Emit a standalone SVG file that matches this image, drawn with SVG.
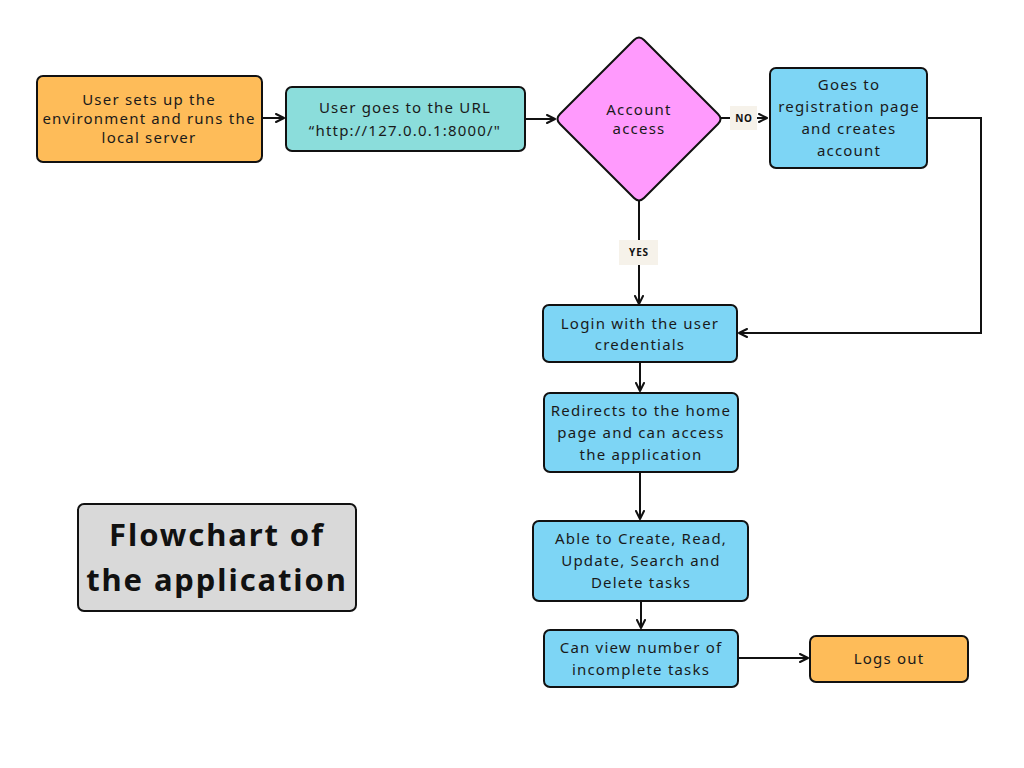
<svg xmlns="http://www.w3.org/2000/svg" width="1024" height="768" viewBox="0 0 1024 768">
  <defs>
    <marker id="arrow" viewBox="0 0 10 10" refX="9" refY="5" markerWidth="10" markerHeight="10" markerUnits="userSpaceOnUse" orient="auto">
      <path d="M1,1 L9,5 L1,9" fill="none" stroke="#111" stroke-width="2" stroke-linecap="round" stroke-linejoin="round"/>
    </marker>
    <style>
      .box { stroke: #111; stroke-width: 2; }
      .orange { fill: #FEBC59; }
      .teal { fill: #8BDDDB; }
      .blue { fill: #7DD5F5; }
      .pink { fill: #FF9AFD; }
      .grey { fill: #D9D9D9; }
      .lbl { font-family: "Noto Sans", "Open Sans", sans-serif; font-size: 15px; fill: #1a1a1a; text-anchor: middle; letter-spacing: 1.2px; }
      .title { font-family: "Noto Sans", "Open Sans", sans-serif; font-size: 31px; font-weight: bold; fill: #111; text-anchor: middle; letter-spacing: 1.9px; }
      .tag { fill: #F6F2EA; }
      .tagtext { font-family: "Noto Sans", "Open Sans", sans-serif; font-size: 10px; font-weight: bold; fill: #111; text-anchor: middle; letter-spacing: 0.8px; }
      .edge { fill: none; stroke: #111; stroke-width: 2; }
    </style>
  </defs>
  <rect width="1024" height="768" fill="#ffffff"/>

  <!-- connectors -->
  <g id="connectors">
    <line class="edge" x1="262" y1="118" x2="284" y2="118" marker-end="url(#arrow)"/>
    <line class="edge" x1="525" y1="119" x2="555" y2="119" marker-end="url(#arrow)"/>
    <line class="edge" x1="721" y1="118" x2="731" y2="118"/>
    <line class="edge" x1="757" y1="118" x2="767" y2="118" marker-end="url(#arrow)"/>
    <polyline class="edge" points="927,118 981,118 981,333 739,333" marker-end="url(#arrow)"/>
    <line class="edge" x1="639" y1="201" x2="639" y2="241"/>
    <line class="edge" x1="639" y1="265" x2="639" y2="304" marker-end="url(#arrow)"/>
    <line class="edge" x1="640" y1="362" x2="640" y2="391" marker-end="url(#arrow)"/>
    <line class="edge" x1="640" y1="472" x2="640" y2="519" marker-end="url(#arrow)"/>
    <line class="edge" x1="641" y1="601" x2="641" y2="628" marker-end="url(#arrow)"/>
    <line class="edge" x1="738" y1="658" x2="808" y2="658" marker-end="url(#arrow)"/>
    <g id="label-no">
      <rect class="tag" x="730" y="106" width="27" height="24"/>
      <text class="tagtext" x="744" y="121.5">NO</text>
    </g>
    <g id="label-yes">
      <rect class="tag" x="619" y="240" width="39" height="25"/>
      <text class="tagtext" x="639" y="256">YES</text>
    </g>
  </g>

  <g id="setup">
    <rect class="box orange" x="37" y="76" width="225" height="86" rx="6"/>
    <text class="lbl" x="149" y="105">User sets up the</text>
    <text class="lbl" x="149" y="124">environment and runs the</text>
    <text class="lbl" x="149" y="143">local server</text>
  </g>

  <g id="url">
    <rect class="box teal" x="286" y="87" width="239" height="64" rx="6"/>
    <text class="lbl" x="405" y="113">User goes to the URL</text>
    <text class="lbl" x="405" y="136">“http://127.0.0.1:8000/"</text>
  </g>

  <g id="account-access">
    <path class="box pink" d="M634,40 Q639,35 644,40 L718,114 Q723,119 718,124 L644,198 Q639,203 634,198 L560,124 Q555,119 560,114 Z"/>
    <text class="lbl" x="639" y="115">Account</text>
    <text class="lbl" x="639" y="134">access</text>
  </g>

  <g id="register">
    <rect class="box blue" x="770" y="68" width="157" height="100" rx="6"/>
    <text class="lbl" x="849" y="90">Goes to</text>
    <text class="lbl" x="849" y="112">registration page</text>
    <text class="lbl" x="849" y="134">and creates</text>
    <text class="lbl" x="849" y="156">account</text>
  </g>

  <g id="login">
    <rect class="box blue" x="543" y="305" width="194" height="57" rx="6"/>
    <text class="lbl" x="640" y="329">Login with the user</text>
    <text class="lbl" x="640" y="350">credentials</text>
  </g>

  <g id="redirect">
    <rect class="box blue" x="544" y="393" width="194" height="79" rx="6"/>
    <text class="lbl" x="641" y="416">Redirects to the home</text>
    <text class="lbl" x="641" y="438">page and can access</text>
    <text class="lbl" x="641" y="460">the application</text>
  </g>

  <g id="crud">
    <rect class="box blue" x="533" y="521" width="215" height="80" rx="6"/>
    <text class="lbl" x="641" y="544">Able to Create, Read,</text>
    <text class="lbl" x="641" y="566">Update, Search and</text>
    <text class="lbl" x="641" y="588">Delete tasks</text>
  </g>

  <g id="incomplete">
    <rect class="box blue" x="544" y="630" width="194" height="57" rx="6"/>
    <text class="lbl" x="641" y="653">Can view number of</text>
    <text class="lbl" x="641" y="675">incomplete tasks</text>
  </g>

  <g id="logout">
    <rect class="box orange" x="810" y="636" width="158" height="46" rx="6"/>
    <text class="lbl" x="889" y="664">Logs out</text>
  </g>

  <g id="title">
    <rect class="box grey" x="78" y="504" width="278" height="107" rx="6"/>
    <text class="title" x="217" y="546">Flowchart of</text>
    <text class="title" x="217" y="591">the application</text>
  </g>
</svg>
